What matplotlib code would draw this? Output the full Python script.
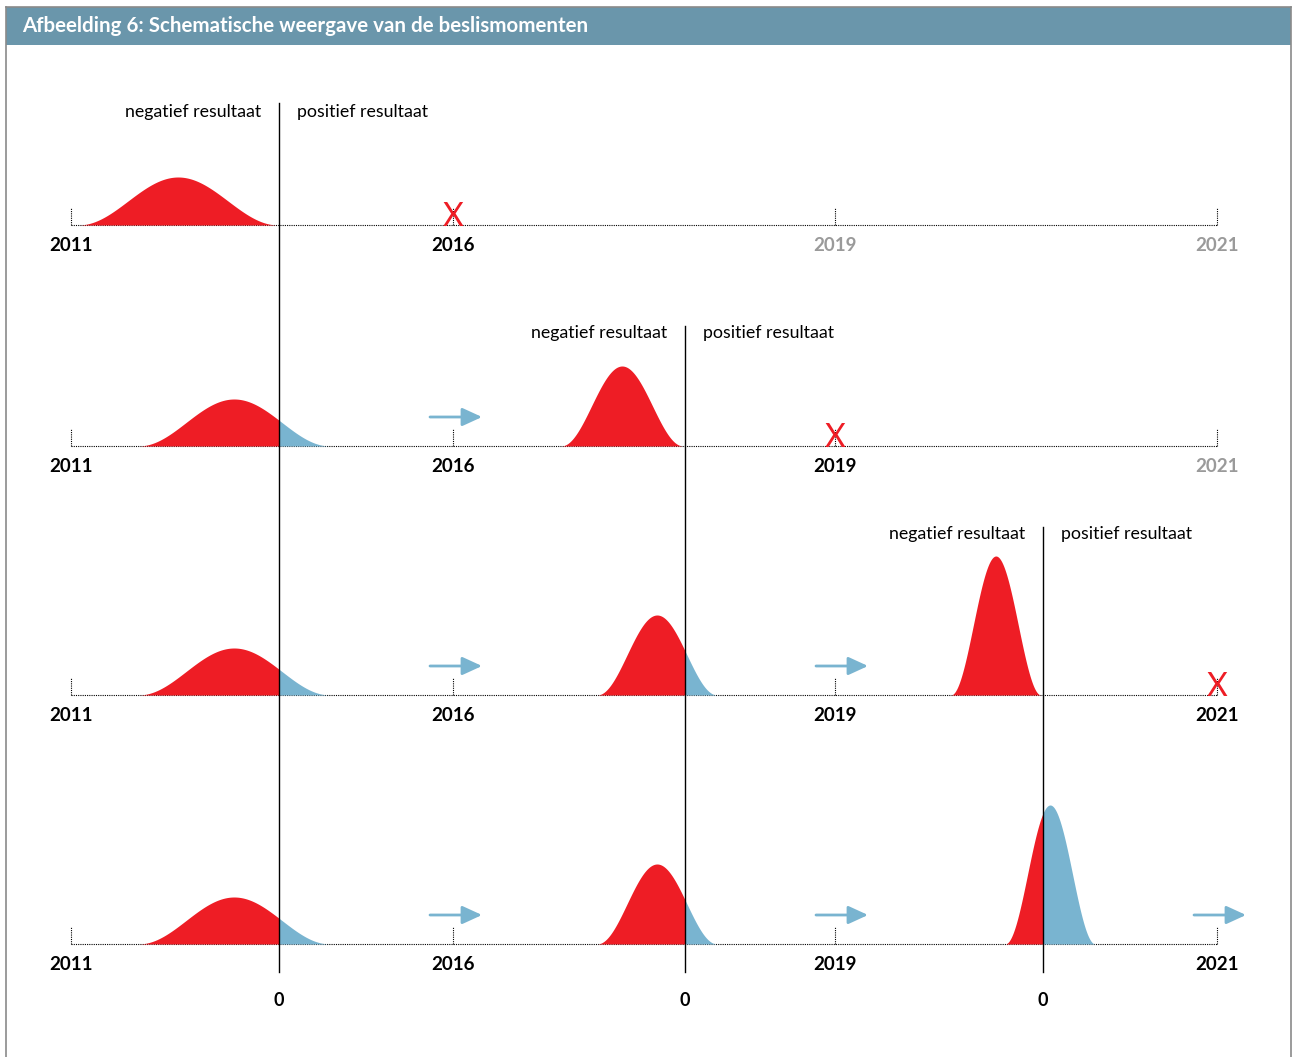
import numpy as np
import matplotlib
matplotlib.use("Agg")
import matplotlib.pyplot as plt
from matplotlib.patches import Rectangle
from matplotlib.lines import Line2D

plt.rcParams['font.family'] = ['Lato', 'DejaVu Sans']

# ---------------- data ----------------
title = "Afbeelding 6: Schematische weergave van de beslismomenten"
years = ["2011", "2016", "2019", "2021"]
year_pos = [0, 1, 2, 3]                       # schematic, equally spaced
thresholds = [0.5445, 1.6073, 2.5445]         # decision moments ("0")
label_neg = "negatief resultaat"
label_pos = "positief resultaat"
zero_label = "0"

# curves per row: centre, half-width (x units), height
row1_centers = [0.2801]
row1_halfw = [0.2618]
row1_heights = [48]
row2_centers = [0.4267, 1.4424]
row2_halfw = [0.2510, 0.1597]
row2_heights = [47, 80]
row3_centers = [0.4267, 1.5340, 2.4210]
row3_halfw = [0.2510, 0.1570, 0.1180]
row3_heights = [47, 80, 139]
row4_centers = [0.4267, 1.5340, 2.5630]
row4_halfw = [0.2510, 0.1570, 0.1180]
row4_heights = [47, 80, 139]

rows = [
    (row1_centers, row1_halfw, row1_heights),
    (row2_centers, row2_halfw, row2_heights),
    (row3_centers, row3_halfw, row3_heights),
    (row4_centers, row4_halfw, row4_heights),
]

# ---------------- layout / style ----------------
W, H = 1292, 1057
PX0, PXU = 71, 382            # pixel of year 0 and pixels per unit
baselines = [225, 446, 695, 944]
label_y = [112, 333, 534]
line_tops = [103, 326, 527]
line_bottom = 972
zero_y = 1001
arrow_start_off = [0, -23, -19, -23]   # px offset of arrow start from tick
RED = "#ee1d25"
BLUE = "#79b4d0"
GREY_YEAR = "#9a9a9a"
BAR = "#6a96ab"
BORDER = "#8a8a8a"

fig = plt.figure(figsize=(W / 100, H / 100), dpi=100)
ax = fig.add_axes([0, 0, 1, 1])
ax.set_xlim(-PX0 / PXU, (W - PX0) / PXU)
ax.set_ylim(H, 0)
ax.axis("off")

upx = 1.0 / PXU   # one pixel in x units

def fx(x):
    return x / W
def fy(y):
    return 1 - y / H

# frame and title bar
fig.patches.append(Rectangle((fx(6), fy(45)), fx(1291) - fx(6), fy(7) - fy(45),
                             transform=fig.transFigure, facecolor=BAR,
                             edgecolor="none", zorder=0))
for xs, ys in [([6, 1291], [7, 7]), ([6, 6], [7, H]), ([1291, 1291], [7, H])]:
    fig.lines.append(Line2D([fx(v) for v in xs], [fy(v) for v in ys],
                            transform=fig.transFigure, color=BORDER, lw=1.2))
fig.text(fx(22), fy(26.5), title, color="white", fontsize=14.8,
         fontweight="bold", va="center", ha="left")

# rows
for r, (cents, hws, hts) in enumerate(rows):
    b = baselines[r]
    ax.plot([year_pos[0], year_pos[-1]], [b, b], color="black", lw=0.8,
            ls=(0, (1, 1)), zorder=2)
    for i, (yp, yl) in enumerate(zip(year_pos, years)):
        ax.plot([yp, yp], [b, b - 17], color="black", lw=0.8, ls=(0, (1, 1)),
                zorder=2)
        col = GREY_YEAR if i > r + 1 else "black"
        ax.text(yp, b + 20.5, yl, ha="center", va="center", fontsize=13.5,
                fontweight="bold", color=col)
    for k, (c, hw, h) in enumerate(zip(cents, hws, hts)):
        xs = np.linspace(c - hw, c + hw, 400)
        ys = h * (1 + np.cos(np.pi * (xs - c) / hw)) / 2
        t = thresholds[min(k, len(thresholds) - 1)]
        ax.fill_between(xs, b, b - ys, where=xs <= t, color=RED, lw=0,
                        interpolate=True, zorder=3)
        ax.fill_between(xs, b, b - ys, where=xs >= t, color=BLUE, lw=0,
                        interpolate=True, zorder=3)
    if r < 3:
        ax.text(year_pos[r + 1], b + 1, "X", ha="center", va="baseline",
                fontsize=23, color=RED, zorder=4)
    for i in range(1, r + 1):
        x0 = year_pos[i] + arrow_start_off[i] * upx
        ax.annotate("", xy=(x0 + 52 * upx, b - 29), xytext=(x0, b - 29),
                    arrowprops=dict(arrowstyle="-|>,head_length=1.2,head_width=0.55",
                                    lw=2.0, color=BLUE, shrinkA=0, shrinkB=0),
                    zorder=4)

# decision lines and labels
for j, t in enumerate(thresholds):
    ax.plot([t, t], [line_tops[j], line_bottom], color="black", lw=1.0, zorder=5)
    ax.text(t - 18 * upx, label_y[j], label_neg, ha="right", va="center",
            fontsize=12.75, color="black")
    ax.text(t + 18 * upx, label_y[j], label_pos, ha="left", va="center",
            fontsize=12.75, color="black")
    ax.text(t, zero_y, zero_label, ha="center", va="center", fontsize=13,
            fontweight="bold", color="black")

fig.savefig("out.png", dpi=100)
